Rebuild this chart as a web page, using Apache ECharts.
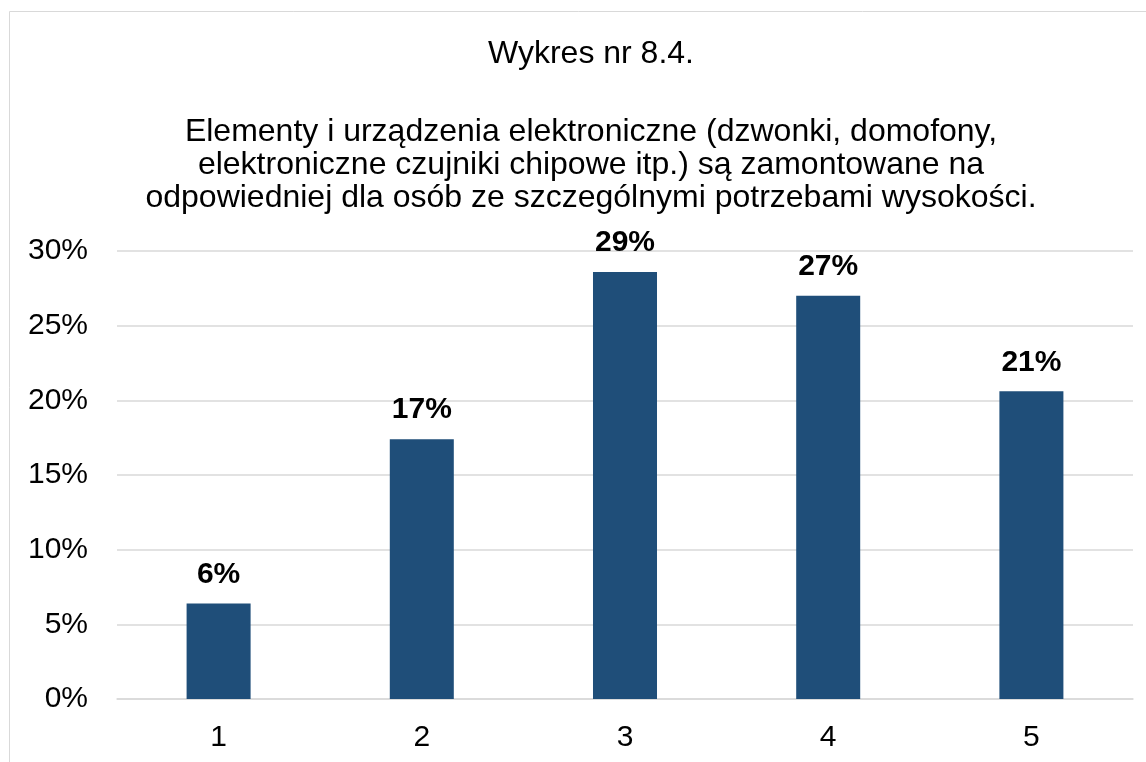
<!DOCTYPE html>
<html>
<head>
<meta charset="utf-8">
<script src="https://cdn.jsdelivr.net/npm/echarts@6/dist/echarts.min.js"></script>
<style>
    html, body { margin: 0; padding: 0; background: #fff; }
    #chart { width: 1146px; height: 762px; }
</style>
</head>
<body>
<div id="chart"></div>
<script>
    // dane
    var categories = ['1', '2', '3', '4', '5'];
    var values = [6.4, 17.4, 28.6, 27.0, 20.6];
    var yTicks = [0, 5, 10, 15, 20, 25, 30];

    var titleText = 'Wykres nr 8.4.';
    var subText = 'Elementy i urządzenia elektroniczne (dzwonki, domofony,\n' +
        'elektroniczne czujniki chipowe itp.) są zamontowane na\n' +
        'odpowiedniej dla osób ze szczególnymi potrzebami wysokości.';

    var font = '"Liberation Sans", Arial, sans-serif';

    var chart = echarts.init(document.getElementById('chart'));

    var option = {
        animation: false,
        textStyle: {fontFamily: font},
        graphic: [{
            type: 'rect',
            shape: {x: 9.5, y: 11.5, width: 1160, height: 780},
            style: {fill: 'none', stroke: '#d9d9d9', lineWidth: 1},
            silent: true
        }],
        title: [
            {
                text: titleText,
                left: 586,
                textAlign: 'center',
                top: 33,
                textStyle: {fontFamily: font, fontSize: 32, fontWeight: 'normal', color: '#000', lineHeight: 33}
            },
            {
                text: subText,
                left: 586,
                textAlign: 'center',
                top: 111,
                textStyle: {fontFamily: font, fontSize: 32, fontWeight: 'normal', color: '#000', lineHeight: 33}
            }
        ],
        grid: {
            left: 117,
            right: 13,
            top: 251,
            bottom: 63
        },
        xAxis: {
            type: 'category',
            data: categories,
            axisLine: {show: true, lineStyle: {color: '#d9d9d9', width: 1.5}},
            axisTick: {show: false},
            axisLabel: {color: '#000', fontSize: 30, fontFamily: font, margin: 24}
        },
        yAxis: {
            type: 'value',
            min: yTicks[0],
            max: yTicks[yTicks.length - 1],
            interval: 5,
            axisLine: {show: false},
            axisTick: {show: false},
            axisLabel: {
                color: '#000',
                fontSize: 30,
                fontFamily: font,
                margin: 29,
                formatter: function (v) { return v + '%'; }
            },
            splitLine: {lineStyle: {color: '#d9d9d9', width: 1.5}}
        },
        series: [{
            type: 'bar',
            data: values,
            barWidth: '31.5%',
            itemStyle: {color: '#1f4e79'},
            label: {
                show: true,
                position: 'top',
                distance: 14,
                color: '#000',
                fontSize: 30,
                fontWeight: 'bold',
                fontFamily: font,
                formatter: function (p) { return Math.round(p.value) + '%'; }
            }
        }]
    };

    chart.setOption(option);
</script>
</body>
</html>
